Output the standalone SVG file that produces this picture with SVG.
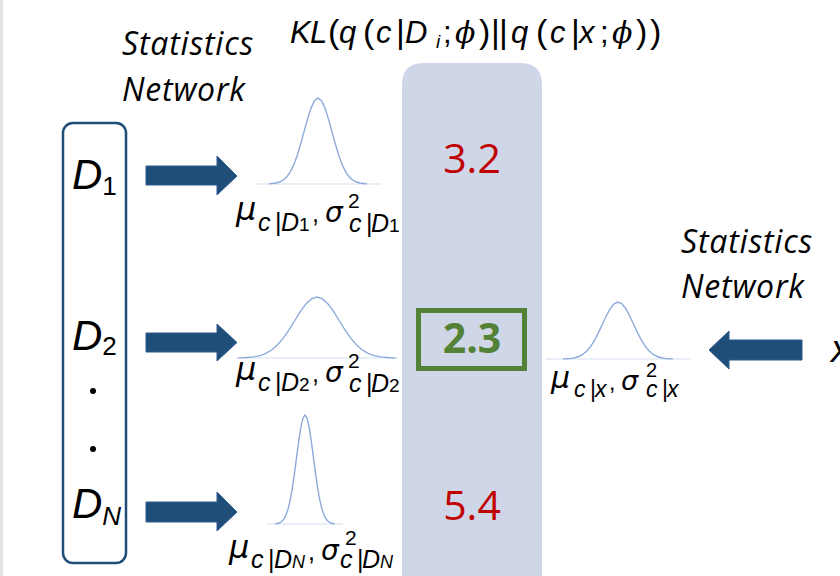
<svg xmlns="http://www.w3.org/2000/svg" xmlns:xlink="http://www.w3.org/1999/xlink" width="840" height="576" viewBox="0 0 840 576">
<style>
  .net { font-family: "Open Sans", "Liberation Sans", sans-serif; font-style: italic; font-size: 32px; letter-spacing: 0.8px; fill: #000; }
  .m { font-family: "Liberation Sans", "DejaVu Sans", sans-serif; font-style: italic; fill: #000; }
  .up { font-style: normal; }
  .gr { font-family: "DejaVu Serif", "Liberation Serif", serif; font-style: italic; }
  .gs { font-family: "DejaVu Sans", "Liberation Sans", sans-serif; font-style: italic; }
  .num { font-family: "Open Sans", "Liberation Sans", sans-serif; font-size: 41px; text-anchor: middle; }
  .arrow { fill: #1f4e79; stroke: #2e5a8e; stroke-width: 1; }
  .curve { fill: none; stroke: #8eaadb; stroke-width: 1.4; vector-effect: non-scaling-stroke; }
  .axis { stroke: #d6dff0; stroke-width: 1.2; }
  .lbl { font-family: "Liberation Sans", "DejaVu Sans", sans-serif; font-style: italic; fill: #000; }
</style>
<defs>
  <path id="g" class="curve" d="M-3.5,-0.0022 L-3.25,-0.0051 L-3,-0.0111 L-2.75,-0.0228 L-2.5,-0.0439 L-2.25,-0.0796 L-2,-0.1353 L-1.75,-0.2165 L-1.5,-0.3247 L-1.25,-0.4578 L-1,-0.6065 L-0.75,-0.7548 L-0.5,-0.8825 L-0.25,-0.9692 L0,-1 L0.25,-0.9692 L0.5,-0.8825 L0.75,-0.7548 L1,-0.6065 L1.25,-0.4578 L1.5,-0.3247 L1.75,-0.2165 L2,-0.1353 L2.25,-0.0796 L2.5,-0.0439 L2.75,-0.0228 L3,-0.0111 L3.25,-0.0051 L3.5,-0.0022"/>
</defs>
<rect x="0" y="0" width="840" height="576" fill="#ffffff"/>
<rect x="0" y="0" width="3" height="576" fill="#e2e2e2"/>

<!-- KL panel -->
<g id="kl-panel">
  <path d="M402,576 L402,85 Q402,63 424,63 L520,63 Q542,63 542,85 L542,576 Z" fill="#cfd6e8"/>
</g>

<!-- title -->
<g id="title">
  <text class="m" font-size="31" y="43"><tspan x="290">K</tspan><tspan x="310">L</tspan><tspan x="328" class="up" font-size="34">(</tspan><tspan x="339">q</tspan><tspan x="363" class="up" font-size="34">(</tspan><tspan x="376">c</tspan><tspan x="396" class="up" font-size="34">|</tspan><tspan x="405">D</tspan><tspan x="436" y="48" font-size="19">i</tspan><tspan x="443" y="43" class="up">;</tspan><tspan x="455" class="gr" font-size="30">ϕ</tspan><tspan x="479" class="up" font-size="34">)</tspan><tspan x="491" class="up" font-size="34">|</tspan><tspan x="499" class="up" font-size="34">|</tspan><tspan x="511">q</tspan><tspan x="536" class="up" font-size="34">(</tspan><tspan x="550">c</tspan><tspan x="571" class="up" font-size="34">|</tspan><tspan x="579">x</tspan><tspan x="600" class="up">;</tspan><tspan x="612" class="gr" font-size="30">ϕ</tspan><tspan x="636" class="up" font-size="34">)</tspan><tspan x="650" class="up" font-size="34">)</tspan></text>
</g>

<!-- Statistics Network labels -->
<g id="stat-net-left">
  <text class="net" x="122" y="55">Statistics</text>
  <text class="net" x="122" y="101">Network</text>
</g>
<g id="stat-net-right">
  <text class="net" x="681" y="253">Statistics</text>
  <text class="net" x="681" y="298">Network</text>
</g>

<!-- dataset column -->
<g id="datasets">
  <rect x="63" y="123" width="63" height="440" rx="10" ry="10" fill="none" stroke="#1f4e79" stroke-width="2.5"/>
  <text class="m" font-size="42" x="72" y="189">D<tspan font-size="26" class="up" dy="6">1</tspan></text>
  <text class="m" font-size="42" x="72" y="350">D<tspan font-size="26" class="up" dy="5">2</tspan></text>
  <circle cx="93" cy="391" r="3" fill="#000"/>
  <circle cx="93" cy="449" r="3" fill="#000"/>
  <text class="m" font-size="42" x="72" y="518">D<tspan font-size="26" dy="7">N</tspan></text>
</g>

<!-- x input -->
<g id="x-input">
  <text class="m" font-size="38" x="831" y="362">x</text>
</g>

<!-- connectors (block arrows) -->
<g id="connectors">
  <polygon class="arrow" points="146,166 217,166 217,156 237,176 217,195 217,185 146,185"/>
  <polygon class="arrow" points="146,333 217,333 217,324 237,342.5 217,361 217,352 146,352"/>
  <polygon class="arrow" points="146,502 217,502 217,492 237,512 217,531 217,522 146,522"/>
  <polygon class="arrow" points="802,340 729,340 729,331 709,350 729,369 729,360 802,360"/>
</g>

<!-- Gaussians -->
<g id="gauss-d1">
  <line class="axis" x1="256" y1="184" x2="381" y2="184"/>
  <use xlink:href="#g" href="#g" transform="translate(318,184) scale(14,86)"/>
  <text class="lbl" font-size="25"><tspan x="236" y="220" class="gs" font-size="32">μ</tspan><tspan x="258" y="231">c</tspan><tspan x="275" class="up">|</tspan><tspan x="281">D</tspan><tspan x="299" class="up" font-size="19">1</tspan><tspan x="312" y="222" class="up">,</tspan><tspan x="325" class="gs" font-size="28">σ</tspan><tspan x="348" y="208" class="up" font-size="21">2</tspan><tspan x="349" y="232">c</tspan><tspan x="366" class="up">|</tspan><tspan x="371">D</tspan><tspan x="389" class="up" font-size="19">1</tspan></text>
</g>
<g id="gauss-d2">
  <line class="axis" x1="236" y1="358" x2="398" y2="358"/>
  <use xlink:href="#g" href="#g" transform="translate(317,358) scale(22.5,61)"/>
  <text class="lbl" font-size="25"><tspan x="236" y="380" class="gs" font-size="32">μ</tspan><tspan x="258" y="391">c</tspan><tspan x="275" class="up">|</tspan><tspan x="281">D</tspan><tspan x="299" class="up" font-size="19">2</tspan><tspan x="312" y="382" class="up">,</tspan><tspan x="325" class="gs" font-size="28">σ</tspan><tspan x="348" y="368" class="up" font-size="21">2</tspan><tspan x="349" y="392">c</tspan><tspan x="366" class="up">|</tspan><tspan x="371">D</tspan><tspan x="389" class="up" font-size="19">2</tspan></text>
</g>
<g id="gauss-dn">
  <line class="axis" x1="267" y1="524" x2="343" y2="524"/>
  <use xlink:href="#g" href="#g" transform="translate(305,524) scale(8.5,109)"/>
  <text class="lbl" font-size="25"><tspan x="229" y="558" class="gs" font-size="32">μ</tspan><tspan x="251" y="568">c</tspan><tspan x="268" class="up">|</tspan><tspan x="274">D</tspan><tspan x="292" font-size="18">N</tspan><tspan x="308" y="560" class="up">,</tspan><tspan x="321" class="gs" font-size="28">σ</tspan><tspan x="345" y="545" class="up" font-size="21">2</tspan><tspan x="340" y="568">c</tspan><tspan x="357" class="up">|</tspan><tspan x="362">D</tspan><tspan x="380" font-size="18">N</tspan></text>
</g>
<g id="gauss-x">
  <line class="axis" x1="546" y1="359" x2="691" y2="359"/>
  <use xlink:href="#g" href="#g" transform="translate(618,359) scale(15.7,57)"/>
  <text class="lbl" font-size="23"><tspan x="551" y="388" class="gs" font-size="30">μ</tspan><tspan x="574" y="397">c</tspan><tspan x="590" class="up">|</tspan><tspan x="595">x</tspan><tspan x="609" y="390" class="up">,</tspan><tspan x="621" class="gs" font-size="27">σ</tspan><tspan x="646" y="377" class="up" font-size="20">2</tspan><tspan x="646" y="397">c</tspan><tspan x="662" class="up">|</tspan><tspan x="667">x</tspan></text>
</g>

<!-- KL values -->
<g id="kl-d1">
  <text class="num" x="472" y="173" fill="#c00000">3.2</text>
</g>
<g id="kl-d2">
  <rect x="418.5" y="310.5" width="106" height="58" fill="none" stroke="#538135" stroke-width="5"/>
  <text class="num" x="472" y="353" fill="#538135" font-weight="bold">2.3</text>
</g>
<g id="kl-dn">
  <text class="num" x="472" y="520" fill="#c00000">5.4</text>
</g>
</svg>
